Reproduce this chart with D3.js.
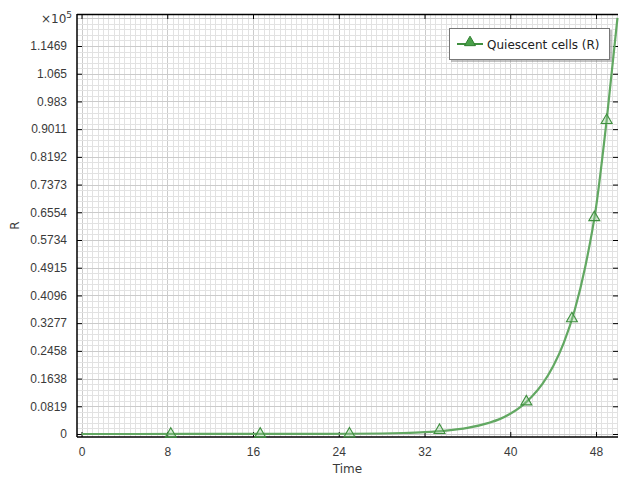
<!DOCTYPE html>
<html>
<head>
<meta charset="utf-8">
<script src="https://cdn.jsdelivr.net/npm/d3@7"></script>
<style>
  body { margin: 0; background: #fff; }
  svg { display: block; font-family: "DejaVu Sans", sans-serif; }
</style>
</head>
<body>
<div id="chart"></div>
<script>
// values (R in units of 1e5)
const times = [0, 5, 10, 15, 20, 25, 28, 30, 32, 34, 36, 38, 39, 40, 41, 42, 43, 44, 45, 46, 47, 48, 49, 50];
const rValues = [0, 0, 0.0001, 0.0002, 0.0003, 0.0007, 0.0015, 0.003, 0.0055, 0.01, 0.018, 0.033, 0.044, 0.06, 0.081, 0.11, 0.148, 0.2, 0.27, 0.365, 0.495, 0.67, 0.93, 1.23];
const markerTimes = [8.33, 16.67, 25, 33.4, 41.5, 45.75, 47.84, 48.99];
const markerValues = [0, 0.0001, 0.0007, 0.011, 0.0955, 0.341, 0.64, 0.927];
const xTicks = [0, 8, 16, 24, 32, 40, 48];
const yTicks = [0, 0.08192, 0.16384, 0.24576, 0.32768, 0.4096, 0.49152, 0.57344, 0.65536, 0.73728, 0.8192, 0.90112, 0.98304, 1.06496, 1.14688];
const yTickLabels = ["0", "0.0819", "0.1638", "0.2458", "0.3277", "0.4096", "0.4915", "0.5734", "0.6554", "0.7373", "0.8192", "0.9011", "0.983", "1.065", "1.1469"];
const seriesName = "Quiescent cells (R)";

const W = 619, H = 477;
const margin = { top: 14, right: 1, bottom: 40, left: 77 };
const width = W - margin.left - margin.right;
const height = H - margin.top - margin.bottom;

const svg = d3.select("#chart").append("svg")
    .attr("width", W)
    .attr("height", H);

const g = svg.append("g")
    .attr("transform", `translate(${margin.left},${margin.top})`);

const x = d3.scaleLinear().domain([-0.42, 50.05]).range([0, width]);
const y = d3.scaleLinear().domain([-0.00887, 1.2415]).range([height, 0]);

// grid
const xMinor = d3.range(0, 50.01, 0.5);
const yMinor = d3.range(0, 1.24, 0.016384);

g.append("g").selectAll("line").data(xMinor).enter().append("line")
    .attr("x1", d => Math.round(x(d)) + 0.5).attr("x2", d => Math.round(x(d)) + 0.5)
    .attr("y1", 0).attr("y2", height)
    .attr("stroke", d => xTicks.includes(d) ? "#cbcbcb" : "#e2e2e2")
    .attr("stroke-width", 1);

g.append("g").selectAll("line").data(yMinor).enter().append("line")
    .attr("y1", d => Math.round(y(d)) + 0.5).attr("y2", d => Math.round(y(d)) + 0.5)
    .attr("x1", 0).attr("x2", width)
    .attr("stroke", (d, i) => i % 5 === 0 ? "#cbcbcb" : "#e2e2e2")
    .attr("stroke-width", 1);

// axes with inward ticks
const axisStyle = sel => {
    sel.select(".domain").remove();
    sel.selectAll("text").attr("fill", "#3a3a3a").style("font-size", "12px");
    sel.selectAll("line").attr("stroke", "#000");
};

g.append("g")
    .attr("transform", `translate(0,${height})`)
    .call(d3.axisBottom(x).tickValues(xTicks).tickSize(-5).tickPadding(10).tickFormat(d3.format("d")))
    .call(axisStyle);

g.append("g")
    .call(d3.axisTop(x).tickValues(xTicks).tickSize(-5).tickFormat(""))
    .call(axisStyle);

g.append("g")
    .call(d3.axisLeft(y).tickValues(yTicks).tickSize(-5).tickPadding(10).tickFormat((d, i) => yTickLabels[i]))
    .call(axisStyle);

g.append("g")
    .attr("transform", `translate(${width},0)`)
    .call(d3.axisRight(y).tickValues(yTicks).tickSize(-5).tickFormat(""))
    .call(axisStyle);

// frame
g.append("line").attr("x1", 0).attr("x2", width).attr("y1", 0.5).attr("y2", 0.5).attr("stroke", "#000").attr("stroke-width", 1.5);
g.append("line").attr("x1", 0).attr("x2", width).attr("y1", height).attr("y2", height).attr("stroke", "#000").attr("stroke-width", 1.5);
g.append("line").attr("x1", 0).attr("x2", 0).attr("y1", 0).attr("y2", height).attr("stroke", "#000").attr("stroke-width", 1.5);

// exponent label
const expo = svg.append("text")
    .attr("x", 72).attr("y", 23)
    .attr("text-anchor", "end")
    .attr("fill", "#3a3a3a")
    .style("font-size", "12px");
expo.append("tspan").text("×10");
expo.append("tspan").attr("dy", -5).style("font-size", "9px").text("5");

// axis titles
svg.append("text")
    .attr("x", margin.left + width / 2).attr("y", 473)
    .attr("text-anchor", "middle").attr("fill", "#3a3a3a")
    .style("font-size", "12px").text("Time");

svg.append("text")
    .attr("transform", `translate(19,${margin.top + height / 2}) rotate(-90)`)
    .attr("text-anchor", "middle").attr("fill", "#3a3a3a")
    .style("font-size", "12px").text("R");

// series
const data = times.map((t, i) => ({ t: t, r: rValues[i] }));
const markers = markerTimes.map((t, i) => ({ t: t, r: markerValues[i] }));
const lineColor = "#62a862";

g.append("clipPath").attr("id", "clip").append("rect")
    .attr("x", 0).attr("y", -4).attr("width", width + 2).attr("height", height + 4);

g.append("path")
    .datum(data)
    .attr("clip-path", "url(#clip)")
    .attr("fill", "none")
    .attr("stroke", lineColor)
    .attr("stroke-width", 2.2)
    .attr("d", d3.line().x(d => x(d.t)).y(d => y(d.r)).curve(d3.curveMonotoneX));

const tri = d3.symbol().type(d3.symbolTriangle).size(52);

g.append("g").selectAll("path").data(markers).enter().append("path")
    .attr("d", tri)
    .attr("transform", d => `translate(${x(d.t)},${y(d.r)})`)
    .attr("fill", "rgba(150,205,150,0.35)")
    .attr("stroke", "#3f8f3f")
    .attr("stroke-width", 1.1);

// legend
const lg = svg.append("g").attr("transform", "translate(449,28)");
lg.append("rect").attr("x", 2).attr("y", 2).attr("width", 161).attr("height", 32)
    .attr("fill", "#888").attr("opacity", 0.5);
lg.append("rect").attr("x", 0.5).attr("y", 0.5).attr("width", 160).attr("height", 31)
    .attr("fill", "#fff").attr("stroke", "#777").attr("stroke-width", 1);
lg.append("line").attr("x1", 8).attr("x2", 34).attr("y1", 16).attr("y2", 16)
    .attr("stroke", "#3f8f3f").attr("stroke-width", 2);
lg.append("path").attr("d", tri).attr("transform", "translate(21,14.5)")
    .attr("fill", "#4aa04a").attr("stroke", "#2f7f2f").attr("stroke-width", 1);
lg.append("text").attr("x", 38).attr("y", 20.5)
    .attr("fill", "#222").style("font-size", "12px").text(seriesName);
</script>
</body>
</html>
